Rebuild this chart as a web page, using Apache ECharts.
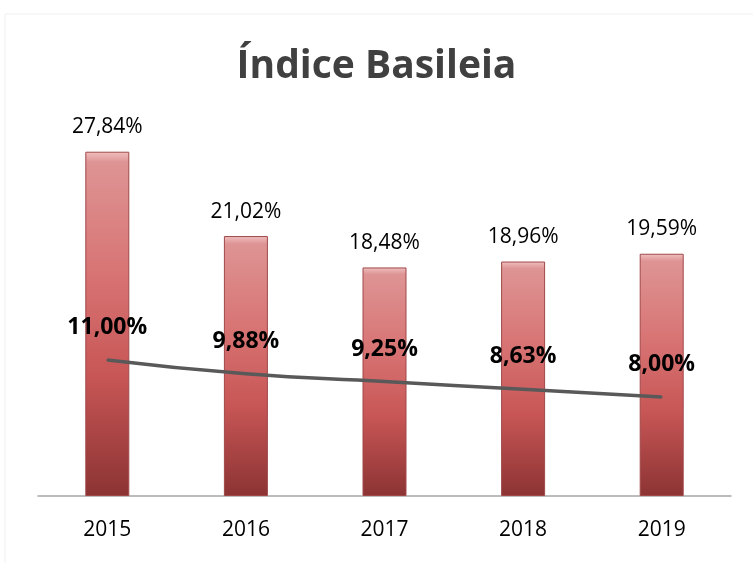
<!DOCTYPE html>
<html><head><meta charset="utf-8">
<script src="https://cdn.jsdelivr.net/npm/echarts@6/dist/echarts.min.js"></script>
<style>html,body{margin:0;padding:0;background:#fff}#c{width:753px;height:563px}</style>
</head><body><div id="c"></div>
<script>
const categories = ['2015','2016','2017','2018','2019'];
const indiceValues = [27.84, 21.02, 18.48, 18.96, 19.59];
const minimoValues = [11.00, 9.88, 9.25, 8.63, 8.00];
const fmt = v => v.toFixed(2).replace('.', ',') + '%';
const chart = echarts.init(document.getElementById('c'));
chart.setOption({
  animation: false,
  backgroundColor: '#fff',
  title: {
    text: 'Índice Basileia', left: 'center', top: 42,
    textStyle: { fontFamily: 'Open Sans', fontWeight: 'bold', fontSize: 39, color: '#404040' }
  },
  graphic: [{ type: 'rect', shape: { x: 5, y: 14, width: 760, height: 560 }, style: { fill: 'none', stroke: '#f0f0f0', lineWidth: 1 }, silent: true }],
  grid: { left: 38, right: 22, top: 125, bottom: 67 },
  xAxis: {
    type: 'category', data: categories,
    axisLine: { lineStyle: { color: '#a6a6a6', width: 1.5 } },
    axisTick: { show: false },
    axisLabel: { fontFamily: 'Open Sans', fontSize: 21, color: '#000', margin: 24 }
  },
  yAxis: { type: 'value', min: 0, max: 30, show: false, splitLine: { show: false } },
  series: [{
    type: 'bar', data: indiceValues, barWidth: 44, z: 2,
    itemStyle: {
      color: new echarts.graphic.LinearGradient(0, 0, 0, 1, [
        { offset: 0, color: '#f0c0c0' },
        { offset: 0.03, color: '#de9494' },
        { offset: 0.35, color: '#d87474' },
        { offset: 0.65, color: '#c85656' },
        { offset: 1, color: '#8c3333' }
      ]),
      borderColor: '#a04848', borderWidth: 1
    },
    label: { show: true, position: 'top', distance: 14, formatter: p => fmt(p.value), fontFamily: 'Open Sans', fontSize: 21, color: '#000' }
  }, {
    type: 'line', data: minimoValues, smooth: true, symbol: 'circle', symbolSize: 2, showSymbol: true, z: 3,
    itemStyle: { color: '#595959' },
    lineStyle: { color: '#595959', width: 3.5 },
    labelLayout: { hideOverlap: false },
    label: { show: true, position: 'top', distance: 20, formatter: p => fmt(p.value), fontFamily: 'Open Sans', fontWeight: 'bold', fontSize: 23, color: '#000' }
  }]
});
</script></body></html>
